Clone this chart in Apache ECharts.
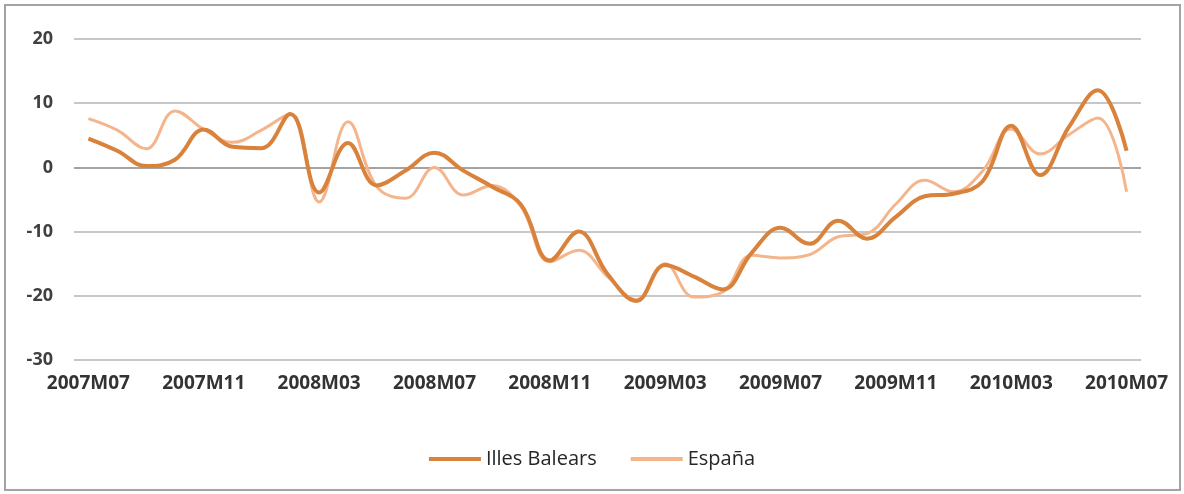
<!DOCTYPE html>
<html>
<head>
<meta charset="utf-8">
<script src="https://cdn.jsdelivr.net/npm/echarts@6/dist/echarts.min.js"></script>
<style>
html,body{margin:0;padding:0;background:#fff;}
#chart{width:1184px;height:494px;}
</style>
</head>
<body>
<div id="chart"></div>
<script>
// Monthly categories 2007M07 .. 2010M07
const months = [
  "2007M07","2007M08","2007M09","2007M10","2007M11","2007M12",
  "2008M01","2008M02","2008M03","2008M04","2008M05","2008M06",
  "2008M07","2008M08","2008M09","2008M10","2008M11","2008M12",
  "2009M01","2009M02","2009M03","2009M04","2009M05","2009M06",
  "2009M07","2009M08","2009M09","2009M10","2009M11","2009M12",
  "2010M01","2010M02","2010M03","2010M04","2010M05","2010M06",
  "2010M07"
];
const illesBalears = [
  4.5, 2.6, 0.2, 1.2, 5.9, 3.2, 3.0, 8.3, -3.9, 3.8, -2.8, -0.5,
  2.3, -0.5, -3.0, -5.8, -14.5, -10.0, -16.6, -20.8, -15.2, -17.0, -19.0, -13.3,
  -9.4, -11.9, -8.3, -11.1, -7.7, -4.5, -4.1, -2.2, 6.5, -1.2, 6.3, 12.0,
  2.6
];
const espana = [
  7.6, 5.8, 2.9, 8.8, 5.9, 3.9, 5.8, 8.3, -5.4, 7.1, -3.0, -4.8,
  0.0, -4.3, -2.8, -6.1, -14.7, -12.9, -17.0, -20.6, -15.0, -20.2, -19.4, -13.7,
  -14.1, -13.6, -10.8, -10.3, -5.7, -2.0, -3.8, -0.6, 6.0, 2.1, 5.1, 7.7,
  -3.8
];
const seriesNames = ["Illes Balears", "España"];

const chart = echarts.init(document.getElementById('chart'), null, {renderer: 'canvas'});
chart.setOption({
  animation: false,
  backgroundColor: '#ffffff',
  graphic: [{
    type: 'rect',
    shape: {x: 5, y: 5, width: 1175, height: 485},
    style: {fill: 'none', stroke: '#a3a3a3', lineWidth: 2},
    silent: true,
    z: -1
  }],
  grid: {left: 74, right: 43, top: 39, bottom: 134, containLabel: false},
  legend: {
    data: seriesNames,
    bottom: 20,
    left: 'center',
    itemWidth: 52,
    itemHeight: 4,
    itemGap: 34,
    icon: 'rect',
    textStyle: {fontFamily: 'Open Sans', fontSize: 20, color: '#262626'}
  },
  xAxis: {
    type: 'category',
    data: months,
    boundaryGap: true,
    axisLine: {show: false},
    axisTick: {show: false},
    axisLabel: {
      interval: 3,
      margin: 14,
      fontFamily: 'Open Sans',
      fontWeight: 'bold',
      fontSize: 19,
      color: '#333333'
    },
    splitLine: {show: false}
  },
  yAxis: {
    type: 'value',
    min: -30,
    max: 20,
    interval: 10,
    axisLine: {show: false},
    axisTick: {show: false},
    axisLabel: {
      margin: 21,
      fontFamily: 'Open Sans',
      fontWeight: 'bold',
      fontSize: 18,
      color: '#404040'
    },
    splitLine: {
      show: true,
      lineStyle: {
        color: ['#b5b5b5','#b5b5b5','#b5b5b5','#858585','#b5b5b5','#b5b5b5'],
        width: 1.5
      }
    }
  },
  series: [
    {
      name: seriesNames[0],
      type: 'line',
      data: illesBalears,
      smooth: 0.4,
      symbol: 'none',
      z: 3,
      lineStyle: {color: '#D8823C', width: 4},
      itemStyle: {color: '#D8823C'}
    },
    {
      name: seriesNames[1],
      type: 'line',
      data: espana,
      smooth: 0.4,
      symbol: 'none',
      z: 2,
      lineStyle: {color: '#F4B58C', width: 3},
      itemStyle: {color: '#F4B58C'}
    }
  ]
});
</script>
</body>
</html>
